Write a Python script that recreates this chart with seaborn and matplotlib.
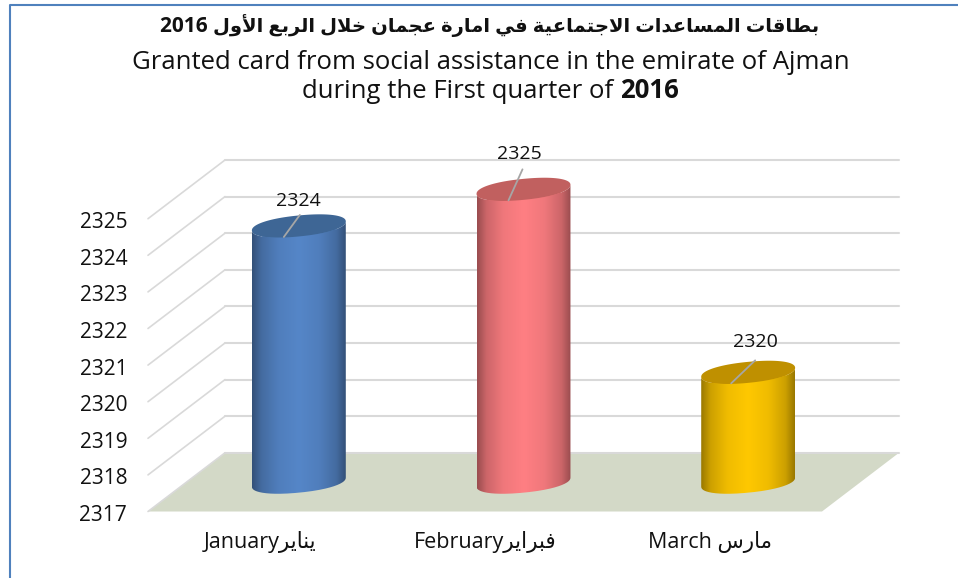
import numpy as np
import pandas as pd
import seaborn as sns
import matplotlib
matplotlib.use("Agg")
import matplotlib.pyplot as plt
from matplotlib.colors import LinearSegmentedColormap, to_rgb
from matplotlib.lines import Line2D
from matplotlib.patches import PathPatch, Polygon
from matplotlib.path import Path
from matplotlib.transforms import Affine2D, IdentityTransform

# ---- data ----
months = ["January", "February", "March"]
cards = [2324, 2325, 2320]
y_ticks = [2317, 2318, 2319, 2320, 2321, 2322, 2323, 2324, 2325]
months_ar = ["يناير", "فبراير", "مارس"]
month_gaps = ["", "", " "]
bar_colors = ["#5586C8", "#FF7F83", "#FFC800"]
top_colors = ["#3E6695", "#C1605F", "#BF9000"]
title_ar = "بطاقات المساعدات الاجتماعية في امارة عجمان خلال الربع الأول"
title_year = "2016"
title_en1 = "Granted card from social assistance in the emirate of Ajman"
title_en2 = "during the First quarter of "

# ---- minimal Arabic shaping (matplotlib does not shape) ----
FORMS = {
    "ا": (0xFE8D, 0xFE8E), "أ": (0xFE83, 0xFE84), "ة": (0xFE93, 0xFE94),
    "د": (0xFEA9, 0xFEAA), "ر": (0xFEAD, 0xFEAE), "و": (0xFEED, 0xFEEE),
    "ب": (0xFE8F, 0xFE90, 0xFE91, 0xFE92), "ت": (0xFE95, 0xFE96, 0xFE97, 0xFE98),
    "ج": (0xFE9D, 0xFE9E, 0xFE9F, 0xFEA0), "خ": (0xFEA5, 0xFEA6, 0xFEA7, 0xFEA8),
    "س": (0xFEB1, 0xFEB2, 0xFEB3, 0xFEB4), "ط": (0xFEC1, 0xFEC2, 0xFEC3, 0xFEC4),
    "ع": (0xFEC9, 0xFECA, 0xFECB, 0xFECC), "ف": (0xFED1, 0xFED2, 0xFED3, 0xFED4),
    "ق": (0xFED5, 0xFED6, 0xFED7, 0xFED8), "ل": (0xFEDD, 0xFEDE, 0xFEDF, 0xFEE0),
    "م": (0xFEE1, 0xFEE2, 0xFEE3, 0xFEE4), "ن": (0xFEE5, 0xFEE6, 0xFEE7, 0xFEE8),
    "ي": (0xFEF1, 0xFEF2, 0xFEF3, 0xFEF4),
}
LAM_ALEF = {"ا": (0xFEFB, 0xFEFC), "أ": (0xFEF7, 0xFEF8)}


def shape(text):
    out, i = [], 0
    prev_joins = False
    while i < len(text):
        c = text[i]
        if c not in FORMS:
            out.append(c)
            prev_joins = False
            i += 1
            continue
        if c == "ل" and i + 1 < len(text) and text[i + 1] in LAM_ALEF:
            out.append(chr(LAM_ALEF[text[i + 1]][1 if prev_joins else 0]))
            prev_joins = False
            i += 2
            continue
        forms = FORMS[c]
        next_ok = i + 1 < len(text) and text[i + 1] in FORMS
        if len(forms) == 2:
            out.append(chr(forms[1 if prev_joins else 0]))
            prev_joins = False
        else:
            if prev_joins and next_ok:
                out.append(chr(forms[3]))
            elif prev_joins:
                out.append(chr(forms[1]))
            elif next_ok:
                out.append(chr(forms[2]))
            else:
                out.append(chr(forms[0]))
            prev_joins = next_ok
        i += 1
    return "".join(reversed(out))


# ---- figure ----
sns.set_theme(style="white")
FAMILY = ["Open Sans", "DejaVu Sans"]
plt.rcParams["font.family"] = FAMILY
W, H = 958, 578
fig = plt.figure(figsize=(W / 100, H / 100), dpi=100, facecolor="white")
ax = fig.add_axes([148 / W, 1 - 511.5 / H, 674 / W, (511.5 - 218.7) / H])
ax.patch.set_visible(False)

df = pd.DataFrame({"month": months, "cards": cards})
sns.barplot(data=df, x="month", y="cards", hue="month", palette=bar_colors,
            saturation=1, width=0.418, legend=False, ax=ax, zorder=2)
bars = list(ax.patches)
ax.set_xlim(-0.5, 2.5)
ax.set_ylim(y_ticks[0], y_ticks[-1])
ax.set_xlabel("")
ax.set_ylabel("")
sns.despine(ax=ax, left=True, bottom=True)
ax.set_yticks(y_ticks, [str(v) for v in y_ticks], fontsize=15, color="#111111")
ax.set_xticks(range(len(months)),
              [m + g + shape(a) for m, g, a in zip(months, month_gaps, months_ar)],
              fontsize=15.5, color="#111111")
ax.tick_params(axis="y", length=0, pad=15)
ax.tick_params(axis="x", length=0, pad=14)
for lab in ax.get_yticklabels():
    lab.set_transform(lab.get_transform() + Affine2D().translate(0, -1.5))

# ---- 3-D box: floor, back wall lines, side lines ----
PIX = IdentityTransform()
DX, DY = 77.0, 58.7
back = ax.transData + Affine2D().translate(DX, DY)
(fx0, fy0) = ax.transData.transform((-0.5, y_ticks[0]))
(fx1, _) = ax.transData.transform((2.5, y_ticks[0]))
ax.add_patch(Polygon([(fx0, fy0), (fx1, fy0), (fx1 + DX, fy0 + DY), (fx0 + DX, fy0 + DY)],
                     closed=True, transform=PIX, facecolor="#D3D9C7", edgecolor="none",
                     clip_on=False, zorder=1))
GRID = "#D9D9D9"
for v in y_ticks:
    ax.add_line(Line2D([-0.5, 2.5], [v, v], transform=back, color=GRID, lw=1.5,
                       clip_on=False, zorder=1.5))
    px, py = ax.transData.transform((-0.5, v))
    ax.add_line(Line2D([px, px + DX], [py, py + DY], transform=PIX, color=GRID, lw=1.2,
                       clip_on=False, zorder=1.5))

# ---- cylinders, built from the bars seaborn drew ----
SHEAR, MINOR, ROUND = 4.5, 10.5, 0.92
t_low = np.linspace(np.pi, 2 * np.pi, 80)
t_all = np.linspace(0, 2 * np.pi, 160)
stops = [(0, .60), (.1, .80), (.28, .94), (.5, 1), (.72, .94), (.9, .80), (1, .60)]
leader_offsets = [((-15, -11), (1, 11)), ((-15, -11), (-1, 20)), ((-17, -11), (7, 12))]
label_offsets = [(0, 25), (-4, 35), (7, 30)]


def ell(cx, cy, a, t):
    """Slightly squared, tilted ellipse as seen on the 3-D cylinder ends."""
    c = np.sign(np.cos(t)) * np.abs(np.cos(t)) ** ROUND
    s = np.sign(np.sin(t)) * np.abs(np.sin(t)) ** ROUND
    return np.column_stack([cx + a * c, cy + SHEAR * c + MINOR * s])


for i, bar in enumerate(bars):
    x0 = bar.get_x()
    x1 = x0 + bar.get_width()
    val = bar.get_y() + bar.get_height()
    bx0, by0 = ax.transData.transform((x0, y_ticks[0]))
    bx1, by1 = ax.transData.transform((x1, val))
    a = (bx1 - bx0) / 2
    cx = (bx0 + bx1) / 2 + DX / 2
    ctop = by1 + DY / 2
    cbot = by0 + DY / 2

    # seaborn's bar stays as the solid core of the cylinder
    bar.set_transform(ax.transData + Affine2D().translate(DX / 2, DY / 2))
    bar.set_clip_on(False)
    bar.set_y(y_ticks[0])
    bar.set_height(val - y_ticks[0])
    bar.set_x(x0 + 0.1 * (x1 - x0))
    bar.set_width(0.8 * (x1 - x0))

    low_bot = ell(cx, cbot, a, t_low)
    low_top = ell(cx, ctop, a, t_low)[::-1]
    body = np.vstack([low_bot, low_top, low_bot[:1]])
    clip = PathPatch(Path(body), transform=PIX, facecolor="none", edgecolor="none")
    ax.add_patch(clip)
    clip.set_clip_on(False)

    base = np.array(to_rgb(bar_colors[i]))
    cmap = LinearSegmentedColormap.from_list(
        f"cyl{i}", [(p, tuple(base * f)) for p, f in stops])
    im = ax.imshow(np.linspace(0, 1, 256)[None, :], cmap=cmap, aspect="auto",
                   extent=(cx - a, cx + a, cbot - 20, ctop + 20), transform=PIX,
                   zorder=3, interpolation="bilinear")
    im.set_clip_box(fig.bbox)
    im.set_clip_path(clip)

    ax.add_patch(Polygon(ell(cx, ctop, a, t_all), closed=True, transform=PIX,
                         facecolor=top_colors[i], edgecolor="none", clip_on=False, zorder=4))

    (ax_, ay_), (bx_, by_) = leader_offsets[i]
    ax.add_line(Line2D([cx + ax_, cx + bx_], [ctop + ay_, ctop + by_], transform=PIX,
                       color="#A6A6A6", lw=1.3, clip_on=False, zorder=5))
    lx, ly = label_offsets[i]
    ax.annotate(str(cards[i]), xy=(cx, ctop), xycoords=PIX, xytext=(lx, ly),
                textcoords="offset pixels", ha="center", va="center", fontsize=14,
                color="#111111", zorder=6, annotation_clip=False)

ax.set_xlim(-0.5, 2.5)
ax.set_ylim(y_ticks[0], y_ticks[-1])

# ---- titles ----
renderer = fig.canvas.get_renderer()


def run_line(runs, cx, y):
    """Centre a row of differently weighted text runs at pixel (cx, baseline y from the top)."""
    items = [fig.text(0, 1 - y / H, s, fontsize=fs, fontweight=w, va="baseline", ha="left",
                      color="#111111", family=FAMILY) for s, fs, w in runs]
    widths = [t.get_window_extent(renderer).width for t in items]
    x = cx - sum(widths) / 2
    for t, wd in zip(items, widths):
        t.set_x(x / W)
        x += wd


run_line([(title_year + " ", 15, "bold"), (shape(title_ar), 14, "bold")], 490, 32)
run_line([(title_en1, 18.5, "normal")], 491, 69)
run_line([(title_en2, 18.5, "normal"), (title_year, 18.5, "bold")], 490, 98)

# ---- frame ----
FRAME = "#4F81BD"
fig.add_artist(Line2D([9.5 / W, 9.5 / W, 1], [0, 1 - 4.5 / H, 1 - 4.5 / H],
                      transform=fig.transFigure, color=FRAME, lw=1.5))

fig.savefig("out.png", dpi=100)
